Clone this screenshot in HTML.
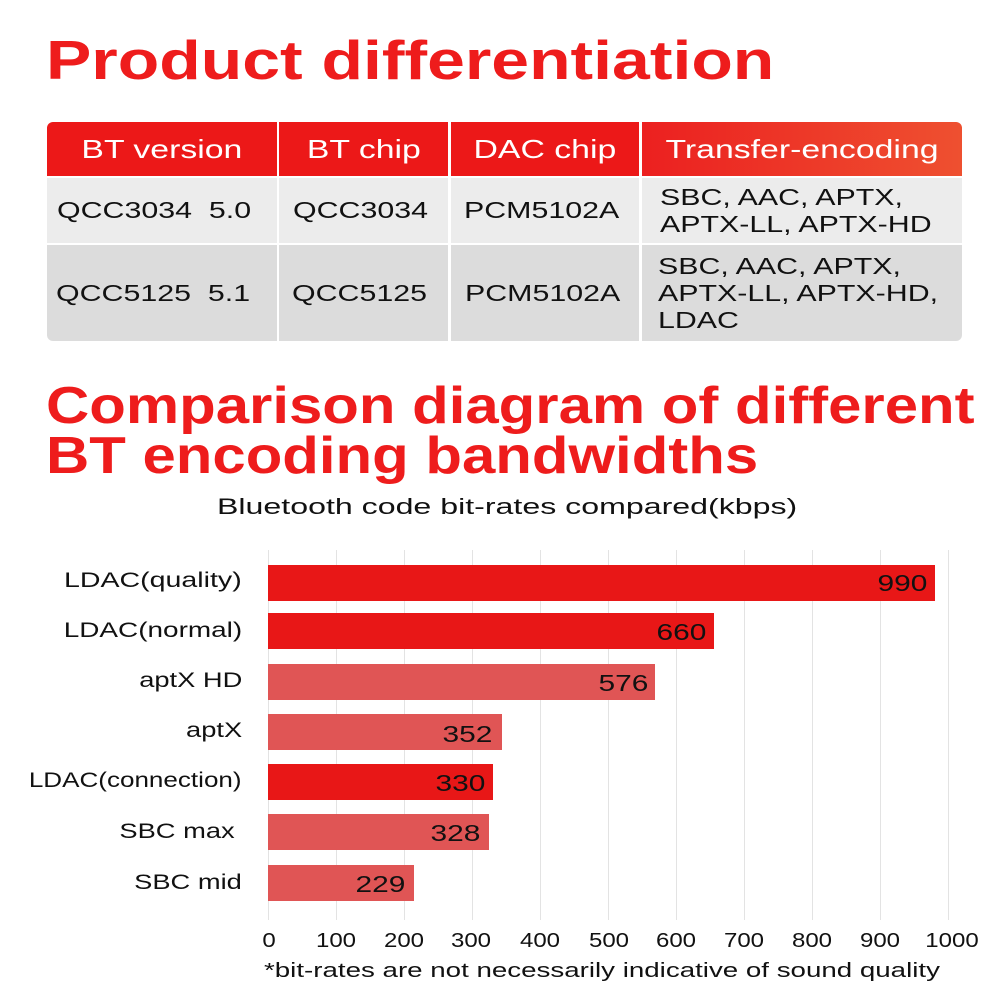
<!DOCTYPE html>
<html><head><style>
body{margin:0;width:1000px;height:1000px;background:#fff;position:relative;overflow:hidden;font-family:"Liberation Sans","DejaVu Sans",sans-serif}
.a{position:absolute;white-space:nowrap}
.t{color:#ee1c1c;font-weight:bold;font-size:55px;transform-origin:left top}
.h{position:absolute;top:122px;height:54px;background:#ec1818;color:#fff;font-size:26px;line-height:54px;text-align:center}
.h span{display:inline-block;transform:scaleX(1.3)}
.c{position:absolute;font-size:23px;color:#111;display:flex;align-items:center;white-space:nowrap}
.c span{display:inline-block;transform:scaleX(1.32);transform-origin:left center}
.g{position:absolute;top:550px;height:370px;width:1px;background:#e3e3e3}
.b{position:absolute;height:36px}
.v{position:absolute;font-size:23px;color:#111;text-align:right;transform:scaleX(1.3);transform-origin:right center}
.l{position:absolute;right:758px;font-size:21px;color:#111;text-align:right;white-space:nowrap;transform:scaleX(1.3);transform-origin:right center}
.x{position:absolute;top:930px;font-size:20px;color:#111;transform:translateX(-50%) scaleX(1.2)}
</style></head><body>
<div class="a t" style="left:46px;top:28px;transform:scaleX(1.235)">Product differentiation</div>
<div class="h" style="left:47px;width:230px;border-radius:6px 0 0 0"><span>BT version</span></div>
<div class="h" style="left:279px;width:169px"><span>BT chip</span></div>
<div class="h" style="left:451px;width:188px"><span>DAC chip</span></div>
<div class="h" style="left:642px;width:320px;background:linear-gradient(90deg,#ec2020,#ee5030);border-radius:0 6px 0 0"><span>Transfer-encoding</span></div>
<div class="c" style="left:47px;top:178px;width:230px;height:65px;background:#ececec;padding-left:10px;box-sizing:border-box"><span>QCC3034&nbsp;&nbsp;5.0</span></div>
<div class="c" style="left:279px;top:178px;width:169px;height:65px;background:#ececec;padding-left:14px;box-sizing:border-box"><span>QCC3034</span></div>
<div class="c" style="left:451px;top:178px;width:188px;height:65px;background:#ececec;padding-left:13px;box-sizing:border-box"><span>PCM5102A</span></div>
<div class="c" style="left:642px;top:178px;width:320px;height:65px;background:#ececec;padding-left:18px;box-sizing:border-box;line-height:27px"><span>SBC, AAC, APTX,<br>APTX-LL, APTX-HD</span></div>
<div class="c" style="left:47px;top:245px;width:230px;height:96px;background:#dcdcdc;padding-left:9px;box-sizing:border-box;border-radius:0 0 0 6px"><span>QCC5125&nbsp;&nbsp;5.1</span></div>
<div class="c" style="left:279px;top:245px;width:169px;height:96px;background:#dcdcdc;padding-left:13px;box-sizing:border-box"><span>QCC5125</span></div>
<div class="c" style="left:451px;top:245px;width:188px;height:96px;background:#dcdcdc;padding-left:14px;box-sizing:border-box"><span>PCM5102A</span></div>
<div class="c" style="left:642px;top:245px;width:320px;height:96px;background:#dcdcdc;padding-left:16px;box-sizing:border-box;line-height:27px;border-radius:0 0 6px 0"><span>SBC, AAC, APTX,<br>APTX-LL, APTX-HD,<br>LDAC</span></div>
<div class="a t" style="left:46px;top:381px;font-size:52px;line-height:50px;transform:scaleX(1.152)">Comparison diagram of different<br>BT encoding bandwidths</div>
<div class="a" style="left:217px;top:494px;font-size:22px;color:#111;transform:scaleX(1.46);transform-origin:left top">Bluetooth code bit-rates compared(kbps)</div>
<div class="g" style="left:268px"></div><div class="g" style="left:336px"></div><div class="g" style="left:404px"></div><div class="g" style="left:472px"></div><div class="g" style="left:540px"></div><div class="g" style="left:608px"></div><div class="g" style="left:676px"></div><div class="g" style="left:744px"></div><div class="g" style="left:812px"></div><div class="g" style="left:880px"></div><div class="g" style="left:948px"></div>
<div class="b" style="left:268px;top:565px;width:667px;background:#e81717"></div>
<div class="b" style="left:268px;top:613px;width:446px;background:#e81717"></div>
<div class="b" style="left:268px;top:664px;width:387px;background:#e05555"></div>
<div class="b" style="left:268px;top:714px;width:234px;background:#e05555"></div>
<div class="b" style="left:268px;top:764px;width:225px;background:#e81717"></div>
<div class="b" style="left:268px;top:814px;width:221px;background:#e05555"></div>
<div class="b" style="left:268px;top:865px;width:146px;background:#e05555"></div>
<div class="v" style="right:73px;top:570px">990</div>
<div class="v" style="right:294px;top:619px">660</div>
<div class="v" style="right:352px;top:670px">576</div>
<div class="v" style="right:508px;top:721px">352</div>
<div class="v" style="right:515px;top:770px">330</div>
<div class="v" style="right:520px;top:820px">328</div>
<div class="v" style="right:595px;top:871px">229</div>
<div class="l" style="top:569px;transform:scaleX(1.36)">LDAC(quality)</div>
<div class="l" style="top:619px;transform:scaleX(1.33)">LDAC(normal)</div>
<div class="l" style="top:669px">aptX HD</div>
<div class="l" style="top:719px">aptX</div>
<div class="l" style="top:769px;transform:scaleX(1.24)">LDAC(connection)</div>
<div class="l" style="top:820px;right:765px">SBC max</div>
<div class="l" style="top:871px">SBC mid</div>
<div class="x" style="left:269px">0</div><div class="x" style="left:336px">100</div><div class="x" style="left:404px">200</div><div class="x" style="left:471px">300</div><div class="x" style="left:540px">400</div><div class="x" style="left:609px">500</div><div class="x" style="left:676px">600</div><div class="x" style="left:744px">700</div><div class="x" style="left:812px">800</div><div class="x" style="left:880px">900</div><div class="x" style="left:952px">1000</div>
<div class="a" style="left:264px;top:960px;font-size:20px;color:#111;transform:scaleX(1.385);transform-origin:left top">*bit-rates are not necessarily indicative of sound quality</div>
</body></html>
